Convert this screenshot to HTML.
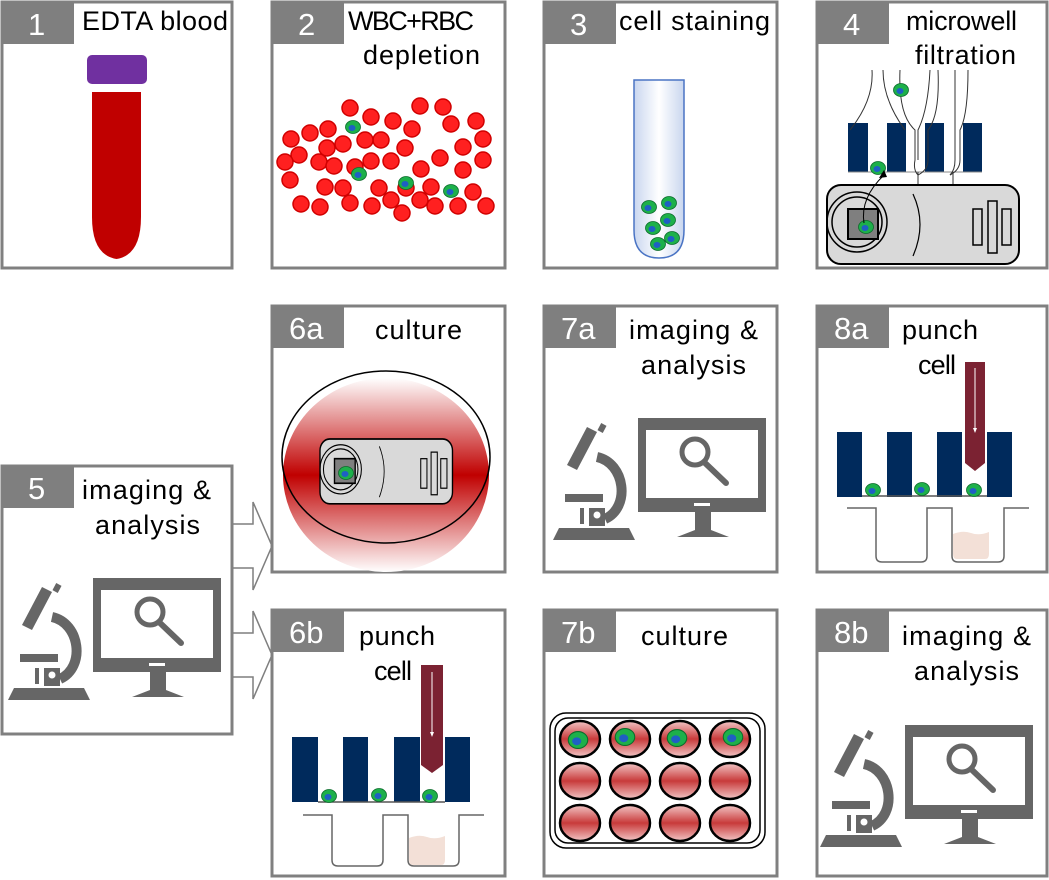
<!DOCTYPE html>
<html><head><meta charset="utf-8"><style>
html,body{margin:0;padding:0;background:#fff}
svg{display:block}
text{font-family:"Liberation Sans",Arial,sans-serif}
.t{font-size:27px;fill:#000}
.n{font-size:31px;fill:#fff}
</style></head><body>
<svg width="1049" height="880" viewBox="0 0 1049 880" xmlns="http://www.w3.org/2000/svg">
<defs>
<linearGradient id="tubeB" x1="0" x2="1" y1="0" y2="0"><stop offset="0" stop-color="#c9d6ef"/><stop offset="0.5" stop-color="#fff"/><stop offset="1" stop-color="#c9d6ef"/></linearGradient>
<linearGradient id="redV" x1="0" x2="0" y1="0" y2="1"><stop offset="0" stop-color="#fff"/><stop offset="0.5" stop-color="#c00000"/><stop offset="1" stop-color="#fff"/></linearGradient>
<linearGradient id="wellG" x1="0" x2="0" y1="0" y2="1"><stop offset="0" stop-color="#f2c6c6"/><stop offset="0.5" stop-color="#c83a3a"/><stop offset="1" stop-color="#f2c6c6"/></linearGradient>
<g id="scope">
 <rect x="93" y="578" width="128" height="94" fill="#666"/>
 <rect x="101" y="590" width="112" height="68" fill="#fff"/>
 <rect x="149" y="663" width="16" height="3" fill="#fff"/>
 <path d="M150 672h16v18l18 7h-52l18-7z" fill="#666"/>
 <circle cx="150" cy="612" r="13" fill="none" stroke="#666" stroke-width="5"/>
 <path d="M159 622l22 21" stroke="#666" stroke-width="6" stroke-linecap="round"/>
 <path d="M8 700l6-12h70l6 12z" fill="#666"/>
 <rect x="20" y="654" width="38" height="8" fill="#666"/>
 <path d="M42 587l10 5-20 38-10-5z" fill="#666"/>
 <rect x="54" y="584" width="6" height="8" fill="#666" transform="rotate(28 57 588)"/>
 <path d="M52 617c28 6 34 50 8 62" stroke="#666" stroke-width="10" fill="none"/>
 <path d="M44 668h16v18h-16z" fill="#666"/>
 <circle cx="52" cy="675" r="3.5" fill="#fff"/>
 <path d="M37 668v16" stroke="#666" stroke-width="4"/>
</g>
<g id="cell"><ellipse rx="7.5" ry="6.5" fill="#1db04a" stroke="#0b6b2b" stroke-width="0.8"/><ellipse cx="-1" cy="1" rx="3.5" ry="3" fill="#1f5fc4"/></g>
<g id="cam">
 <rect x="0" y="0" width="192" height="79" rx="14" fill="#d9d9d9" stroke="#000" stroke-width="2"/>
 <circle cx="30" cy="37" r="30" fill="none" stroke="#000" stroke-width="1.5"/>
 <circle cx="30" cy="37" r="25" fill="none" stroke="#000" stroke-width="1.5"/>
 <rect x="21" y="24" width="30" height="30" fill="#7f7f7f" stroke="#000" stroke-width="2"/>
 <path d="M86 9q14 30 0 62" fill="none" stroke="#000" stroke-width="1.2"/>
 <rect x="146" y="24" width="9" height="36" fill="none" stroke="#000" stroke-width="1.5"/>
 <rect x="161" y="16" width="9" height="52" fill="none" stroke="#000" stroke-width="1.5"/>
 <rect x="175" y="24" width="9" height="36" fill="none" stroke="#000" stroke-width="1.5"/>
</g>
</defs>

<path d="M232 524h21v-22l19 44-19 44v-22h-21z" fill="#fff" stroke="#7f7f7f" stroke-width="1.5"/>
<path d="M232 633h21v-22l19 44-19 44v-22h-21z" fill="#fff" stroke="#7f7f7f" stroke-width="1.5"/>

<g fill="none" stroke="#808080" stroke-width="3">
<rect x="2" y="2" width="230" height="266"/><rect x="272" y="2" width="233" height="266"/><rect x="544" y="2" width="233" height="266"/><rect x="817" y="2" width="230" height="266"/>
<rect x="272" y="306" width="233" height="266"/><rect x="544" y="306" width="233" height="266"/><rect x="817" y="306" width="230" height="266"/>
<rect x="272" y="610" width="233" height="266"/><rect x="544" y="610" width="233" height="266"/><rect x="817" y="610" width="230" height="266"/>
<rect x="2" y="466" width="230" height="268"/>
</g>
<g fill="#7f7f7f">
<rect x="2" y="2" width="72" height="42"/><rect x="272" y="2" width="72" height="42"/><rect x="544" y="2" width="72" height="42"/><rect x="817" y="2" width="72" height="42"/>
<rect x="272" y="306" width="72" height="42"/><rect x="544" y="306" width="72" height="42"/><rect x="817" y="306" width="72" height="42"/>
<rect x="272" y="610" width="72" height="42"/><rect x="544" y="610" width="72" height="42"/><rect x="817" y="610" width="72" height="42"/>
<rect x="2" y="466" width="72" height="42"/>
</g>
<g>
<text x="28" y="35" class="n">1</text><text x="298" y="35" class="n">2</text><text x="570" y="35" class="n">3</text><text x="843" y="35" class="n">4</text>
<text x="289" y="339" class="n">6a</text><text x="561" y="339" class="n">7a</text><text x="834" y="339" class="n">8a</text>
<text x="289" y="643" class="n">6b</text><text x="561" y="643" class="n">7b</text><text x="834" y="643" class="n">8b</text>
<text x="28" y="499" class="n">5</text>
</g>
<g>
<text x="82" y="30" class="t" textLength="146">EDTA blood</text>
<text x="348" y="30" class="t" textLength="126">WBC+RBC</text><text x="363" y="64" class="t" textLength="117">depletion</text>
<text x="619" y="30" class="t" textLength="151">cell staining</text>
<text x="906" y="30" class="t" textLength="111">microwell</text><text x="915" y="64" class="t" textLength="101">filtration</text>
<text x="375" y="339" class="t" textLength="87">culture</text>
<text x="629" y="339" class="t" textLength="129">imaging &amp;</text><text x="641" y="374" class="t" textLength="105">analysis</text>
<text x="902" y="339" class="t" textLength="76">punch</text><text x="918" y="374" class="t" textLength="38">cell</text>
<text x="359" y="645" class="t" textLength="76">punch</text><text x="374" y="680" class="t" textLength="38">cell</text>
<text x="641" y="645" class="t" textLength="87">culture</text>
<text x="902" y="645" class="t" textLength="129">imaging &amp;</text><text x="914" y="680" class="t" textLength="105">analysis</text>
<text x="82" y="499" class="t" textLength="129">imaging &amp;</text><text x="95" y="534" class="t" textLength="105">analysis</text>
</g>

<rect x="87" y="55" width="60" height="29" rx="5" fill="#7030a0"/>
<path d="M92 92h49v125q0 38-24.5 42q-24.5-4-24.5-42z" fill="#c00000"/>

<g fill="#ff2020" stroke="#d00000" stroke-width="1.5">
<circle cx="291" cy="139" r="8"/><circle cx="310" cy="133" r="8"/><circle cx="328" cy="129" r="8"/><circle cx="371" cy="117" r="8"/><circle cx="381" cy="140" r="8"/><circle cx="343" cy="144" r="8"/><circle cx="327" cy="148" r="8"/><circle cx="299" cy="155" r="8"/><circle cx="319" cy="162" r="8"/><circle cx="285" cy="162" r="8"/><circle cx="334" cy="166" r="8"/><circle cx="371" cy="161" r="8"/><circle cx="391" cy="161" r="8"/><circle cx="290" cy="180" r="8"/><circle cx="325" cy="187" r="8"/><circle cx="343" cy="188" r="8"/><circle cx="379" cy="188" r="8"/><circle cx="301" cy="204" r="8"/><circle cx="320" cy="207" r="8"/><circle cx="350" cy="203" r="8"/><circle cx="372" cy="206" r="8"/><circle cx="391" cy="200" r="8"/><circle cx="402" cy="213" r="8"/><circle cx="420" cy="200" r="8"/><circle cx="435" cy="206" r="8"/><circle cx="458" cy="206" r="8"/><circle cx="486" cy="206" r="8"/><circle cx="473" cy="192" r="8"/><circle cx="431" cy="187" r="8"/><circle cx="406" cy="188" r="8"/><circle cx="421" cy="169" r="8"/><circle cx="440" cy="158" r="8"/><circle cx="463" cy="170" r="8"/><circle cx="483" cy="160" r="8"/><circle cx="483" cy="139" r="8"/><circle cx="463" cy="147" r="8"/><circle cx="451" cy="124" r="8"/><circle cx="443" cy="107" r="8"/><circle cx="420" cy="106" r="8"/><circle cx="412" cy="129" r="8"/><circle cx="405" cy="148" r="8"/><circle cx="393" cy="121" r="8"/><circle cx="476" cy="121" r="8"/><circle cx="355" cy="167" r="8"/><circle cx="365" cy="140" r="8"/><circle cx="350" cy="108" r="8"/>
</g>
<use href="#cell" x="353" y="127"/><use href="#cell" x="359" y="174"/><use href="#cell" x="406" y="183"/><use href="#cell" x="451" y="191"/>

<path d="M634 80h50v150q0 28-25 28q-25 0-25-28z" fill="url(#tubeB)" stroke="#4a74c4" stroke-width="1.5"/>
<use href="#cell" x="649" y="207"/><use href="#cell" x="669" y="203"/><use href="#cell" x="653" y="228"/><use href="#cell" x="668" y="220"/><use href="#cell" x="658" y="244"/><use href="#cell" x="672" y="238"/>

<g fill="#002a5c"><rect x="848" y="123" width="20" height="49"/><rect x="887" y="123" width="19" height="49"/><rect x="925" y="123" width="19" height="49"/><rect x="963" y="123" width="19" height="49"/></g>
<path d="M848 172h134" stroke="#888" stroke-width="1"/>
<g fill="none" stroke="#333" stroke-width="1">
<path d="M872 70q2 30-22 60"/><path d="M883 70q0 30 22 60"/><path d="M900 70q-2 45 15 60v30q-2 10 3 15"/><path d="M930 70q-2 40-12 60v30"/><path d="M938 70q2 45 -10 60v30q0 10 -10 15"/><path d="M955 70v60v30q0 10-5 15"/><path d="M968 70q0 45-8 60v30q0 10-10 15"/>
<path d="M918 172v12M953 172v12"/>
</g>
<use href="#cell" x="901" y="90"/><use href="#cell" x="878" y="168"/>
<use href="#cam" x="827" y="185"/>
<use href="#cell" x="866" y="227"/>
<path d="M864 223q-4-25 20-48" fill="none" stroke="#000" stroke-width="1"/><path d="M884 170l-5 8 8-1z" fill="#000"/>

<ellipse cx="386" cy="475" rx="103" ry="97" fill="url(#redV)"/>
<ellipse cx="386" cy="457" rx="104" ry="86" fill="none" stroke="#000" stroke-width="1.5"/>
<g transform="translate(320,439) scale(0.69,0.82)"><use href="#cam"/></g>
<use href="#cell" x="346" y="473"/>

<use href="#scope"/>
<use href="#scope" x="545" y="-160"/>
<use href="#scope" x="812" y="147"/>

<g fill="#002a5c"><rect x="837" y="432" width="25" height="65"/><rect x="887" y="432" width="25" height="65"/><rect x="937" y="432" width="25" height="65"/><rect x="987" y="432" width="25" height="65"/></g>
<path d="M862 496h125" stroke="#555" stroke-width="1.5"/>
<path d="M965 362h20v101l-10 8-10-8z" fill="#7b2232"/><path d="M975 368v62" stroke="#fff" stroke-width="1"/><path d="M973 428l2 5 2-5z" fill="#fff"/>
<use href="#cell" x="873" y="490"/><use href="#cell" x="922" y="489"/><use href="#cell" x="974" y="490"/>
<path d="M953 534q10-4 18-1t18-1v22q0 5-4 5h-28q-4 0-4-5z" fill="#f3e0d7"/>
<path d="M847 508h29v48q0 6 6 6h39q6 0 6-6v-48h25v48q0 6 6 6h40q6 0 6-6v-48h25" fill="none" stroke="#666" stroke-width="1.5"/>

<g fill="#002a5c"><rect x="292" y="737" width="26" height="65"/><rect x="343" y="737" width="25" height="65"/><rect x="394" y="737" width="26" height="65"/><rect x="445" y="737" width="25" height="65"/></g>
<path d="M318 802h127" stroke="#555" stroke-width="1.5"/>
<path d="M421 665h22v100l-11 8-11-8z" fill="#7b2232"/><path d="M432 672v62" stroke="#fff" stroke-width="1"/><path d="M430 732l2 5 2-5z" fill="#fff"/>
<use href="#cell" x="329" y="796"/><use href="#cell" x="379" y="795"/><use href="#cell" x="430" y="796"/>
<path d="M409 838q10-4 18-1t18-1v24q0 5-4 5h-28q-4 0-4-5z" fill="#f3e0d7"/>
<path d="M303 815h29v45q0 6 6 6h39q6 0 6-6v-45h25v45q0 6 6 6h39q6 0 6-6v-45h25" fill="none" stroke="#666" stroke-width="1.5"/>

<rect x="550" y="713" width="215" height="135" rx="16" fill="#fff" stroke="#000" stroke-width="1.5"/>
<rect x="555" y="718" width="205" height="125" rx="13" fill="none" stroke="#000" stroke-width="1.5"/>
<g stroke="#000" stroke-width="2.5" fill="url(#wellG)">
<ellipse cx="580" cy="739" rx="20" ry="18"/><ellipse cx="630" cy="739" rx="20" ry="18"/><ellipse cx="680" cy="739" rx="20" ry="18"/><ellipse cx="730" cy="739" rx="20" ry="18"/>
<ellipse cx="580" cy="781" rx="20" ry="18"/><ellipse cx="630" cy="781" rx="20" ry="18"/><ellipse cx="680" cy="781" rx="20" ry="18"/><ellipse cx="730" cy="781" rx="20" ry="18"/>
<ellipse cx="580" cy="823" rx="20" ry="18"/><ellipse cx="630" cy="823" rx="20" ry="18"/><ellipse cx="680" cy="823" rx="20" ry="18"/><ellipse cx="730" cy="823" rx="20" ry="18"/>
</g>
<g transform="translate(578,740) scale(1.3)"><use href="#cell"/></g>
<g transform="translate(625,737) scale(1.3)"><use href="#cell"/></g>
<g transform="translate(677,738) scale(1.3)"><use href="#cell"/></g>
<g transform="translate(733,737) scale(1.3)"><use href="#cell"/></g>
</svg>
</body></html>
